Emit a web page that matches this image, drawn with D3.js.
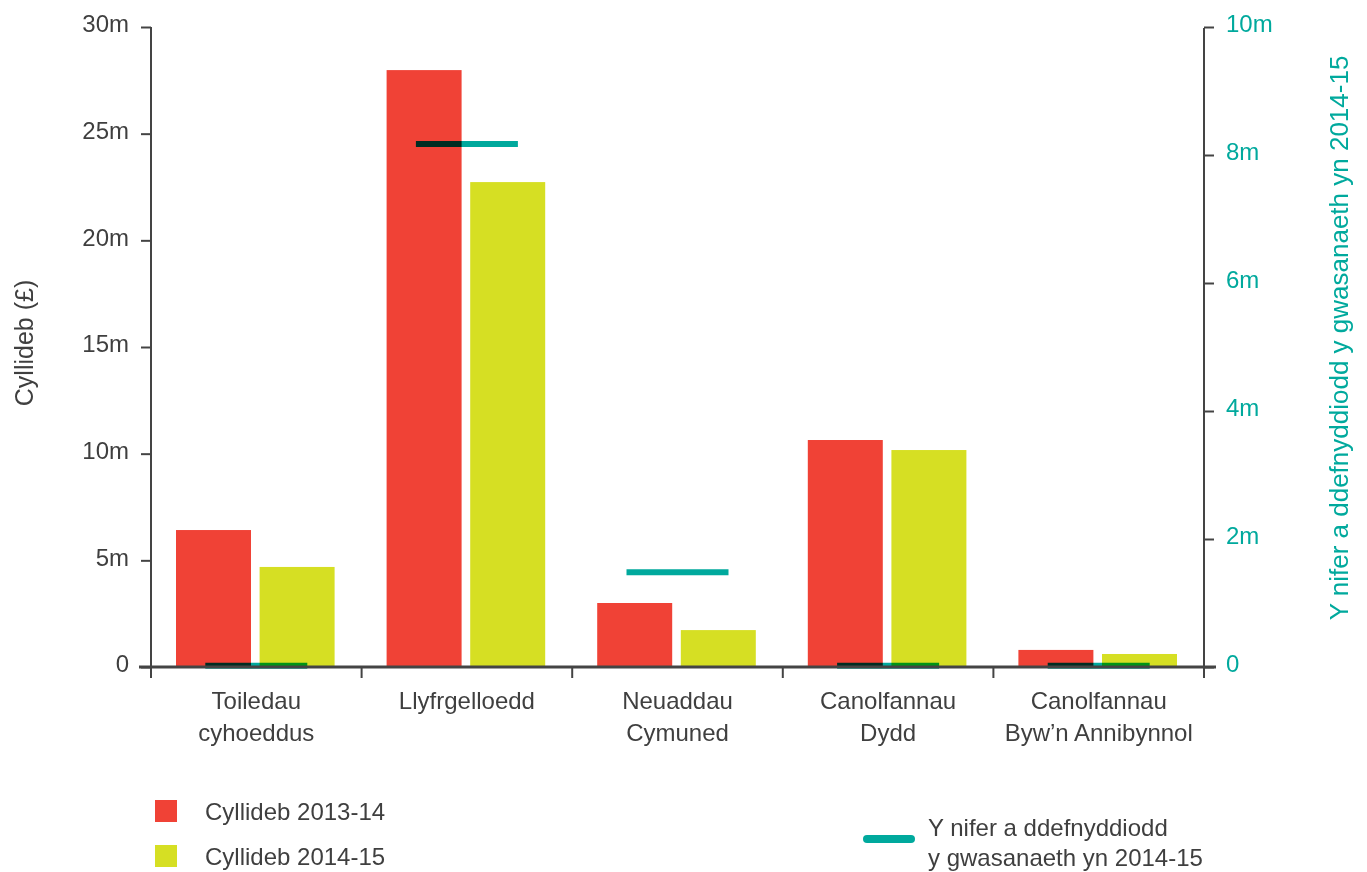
<!DOCTYPE html>
<html>
<head>
<meta charset="utf-8">
<script src="https://cdn.jsdelivr.net/npm/d3@7"></script>
<style>
  body { margin: 0; background: #fff; }
  svg text { font-family: "Liberation Sans", Arial, sans-serif; }
</style>
</head>
<body>
<div id="chart"></div>
<script>
// chart data
const categories = [
  ["Toiledau", "cyhoeddus"],
  ["Llyfrgelloedd"],
  ["Neuaddau", "Cymuned"],
  ["Canolfannau", "Dydd"],
  ["Canolfannau", "Byw’n Annibynnol"]
];
const budget1314 = [6.42, 27.98, 3.0, 10.64, 0.8];
const budget1415 = [4.69, 22.73, 1.73, 10.17, 0.61];
const users1415 = [0.02, 8.17, 1.48, 0.02, 0.02];
const leftTicks = [0, 5, 10, 15, 20, 25, 30];
const rightTicks = [0, 2, 4, 6, 8, 10];
const seriesNames = ["Cyllideb 2013-14", "Cyllideb 2014-15"];
const lineName = ["Y nifer a ddefnyddiodd", "y gwasanaeth yn 2014-15"];

const width = 1367, height = 872;
const colRed = "#f04236", colYellow = "#d6df23", colTeal = "#00a99d", colText = "#3f3f3f", colAxis = "#444";
const fs = 24;

const svg = d3.select("#chart").append("svg").attr("width", width).attr("height", height);

const margin = { left: 151, right: 1204, top: 27, bottom: 667 };

const x = d3.scaleBand().domain(d3.range(categories.length)).range([margin.left, margin.right]);
const xInner = d3.scaleBand().domain([0, 1]).range([25, x.bandwidth() - 27]).paddingInner(0.103);
const yLeft = d3.scaleLinear().domain([0, 30]).range([margin.bottom, margin.top]);
const yRight = d3.scaleLinear().domain([0, 10]).range([margin.bottom, margin.top]);

// bars
const groups = svg.append("g").selectAll("g").data(categories).join("g")
  .attr("transform", (d, i) => `translate(${x(i)},0)`);

groups.append("rect")
  .attr("x", xInner(0)).attr("width", xInner.bandwidth())
  .attr("y", (d, i) => yLeft(budget1314[i]))
  .attr("height", (d, i) => yLeft(0) - yLeft(budget1314[i]))
  .attr("fill", colRed);

groups.append("rect")
  .attr("x", xInner(1)).attr("width", xInner.bandwidth())
  .attr("y", (d, i) => yLeft(budget1415[i]))
  .attr("height", (d, i) => yLeft(0) - yLeft(budget1415[i]))
  .attr("fill", colYellow);

// user markers (right axis)
svg.append("g").selectAll("line").data(users1415).join("line")
  .attr("x1", (d, i) => x(i) + x.bandwidth() / 2 - 51)
  .attr("x2", (d, i) => x(i) + x.bandwidth() / 2 + 51)
  .attr("y1", d => yRight(d)).attr("y2", d => yRight(d))
  .attr("stroke", colTeal).attr("stroke-width", 6)
  .style("mix-blend-mode", "multiply");

// left axis
const axL = svg.append("g").attr("transform", `translate(${margin.left},0)`)
  .call(d3.axisLeft(yLeft).tickValues(leftTicks).tickSize(10).tickPadding(12)
    .tickFormat(d => d === 0 ? "0" : d + "m"));
axL.select(".domain").remove();
axL.selectAll(".tick line").attr("stroke", colAxis).attr("stroke-width", 2);
axL.selectAll(".tick text").attr("font-size", fs).attr("fill", colText).attr("dy", "0.2em");
svg.append("line").attr("x1", margin.left).attr("x2", margin.left)
  .attr("y1", margin.top).attr("y2", margin.bottom + 11)
  .attr("stroke", colAxis).attr("stroke-width", 2);

// right axis
const axR = svg.append("g").attr("transform", `translate(${margin.right},0)`)
  .call(d3.axisRight(yRight).tickValues(rightTicks).tickSize(10).tickPadding(12)
    .tickFormat(d => d === 0 ? "0" : d + "m"));
axR.select(".domain").remove();
axR.selectAll(".tick line").attr("stroke", colAxis).attr("stroke-width", 2);
axR.selectAll(".tick text").attr("font-size", fs).attr("fill", colTeal).attr("dy", "0.2em");
svg.append("line").attr("x1", margin.right).attr("x2", margin.right)
  .attr("y1", margin.top + 1).attr("y2", margin.bottom + 11)
  .attr("stroke", colAxis).attr("stroke-width", 2);

// x axis baseline and ticks
svg.append("line").attr("x1", margin.left - 12).attr("x2", margin.right + 12)
  .attr("y1", margin.bottom).attr("y2", margin.bottom)
  .attr("stroke", colAxis).attr("stroke-width", 3);
svg.append("g").selectAll("line").data(d3.range(categories.length + 1)).join("line")
  .attr("x1", i => margin.left + i * x.bandwidth())
  .attr("x2", i => margin.left + i * x.bandwidth())
  .attr("y1", margin.bottom).attr("y2", margin.bottom + 11)
  .attr("stroke", colAxis).attr("stroke-width", 2);

// category labels
svg.append("g").selectAll("text").data(categories).join("text")
  .attr("text-anchor", "middle")
  .attr("font-size", fs).attr("fill", colText)
  .attr("transform", (d, i) => `translate(${x(i) + x.bandwidth() / 2},${margin.bottom + 42})`)
  .selectAll("tspan").data(d => d).join("tspan")
  .attr("x", 0).attr("y", (d, j) => j * 32)
  .text(d => d);

// axis titles
svg.append("text").attr("transform", `translate(33,343) rotate(-90)`)
  .attr("text-anchor", "middle").attr("font-size", 25).attr("fill", colText)
  .text("Cyllideb (£)");
svg.append("text").attr("transform", `translate(1348,338) rotate(-90)`)
  .attr("text-anchor", "middle").attr("font-size", 26).attr("fill", colTeal)
  .text("Y nifer a ddefnyddiodd y gwasanaeth yn 2014-15");

// legend
const legend = svg.append("g");
const swatches = legend.selectAll("g").data(seriesNames).join("g")
  .attr("transform", (d, i) => `translate(155,${800 + i * 45})`);
swatches.append("rect").attr("width", 22).attr("height", 22)
  .attr("fill", (d, i) => [colRed, colYellow][i]);
swatches.append("text").attr("x", 50).attr("y", 20)
  .attr("font-size", fs).attr("fill", colText).text(d => d);

legend.append("line").attr("x1", 867).attr("x2", 911).attr("y1", 839).attr("y2", 839)
  .attr("stroke", colTeal).attr("stroke-width", 8).attr("stroke-linecap", "round");
legend.append("text").attr("font-size", fs).attr("fill", colText)
  .selectAll("tspan").data(lineName).join("tspan")
  .attr("x", 928).attr("y", (d, i) => 836 + i * 30)
  .text(d => d);
</script>
</body>
</html>
